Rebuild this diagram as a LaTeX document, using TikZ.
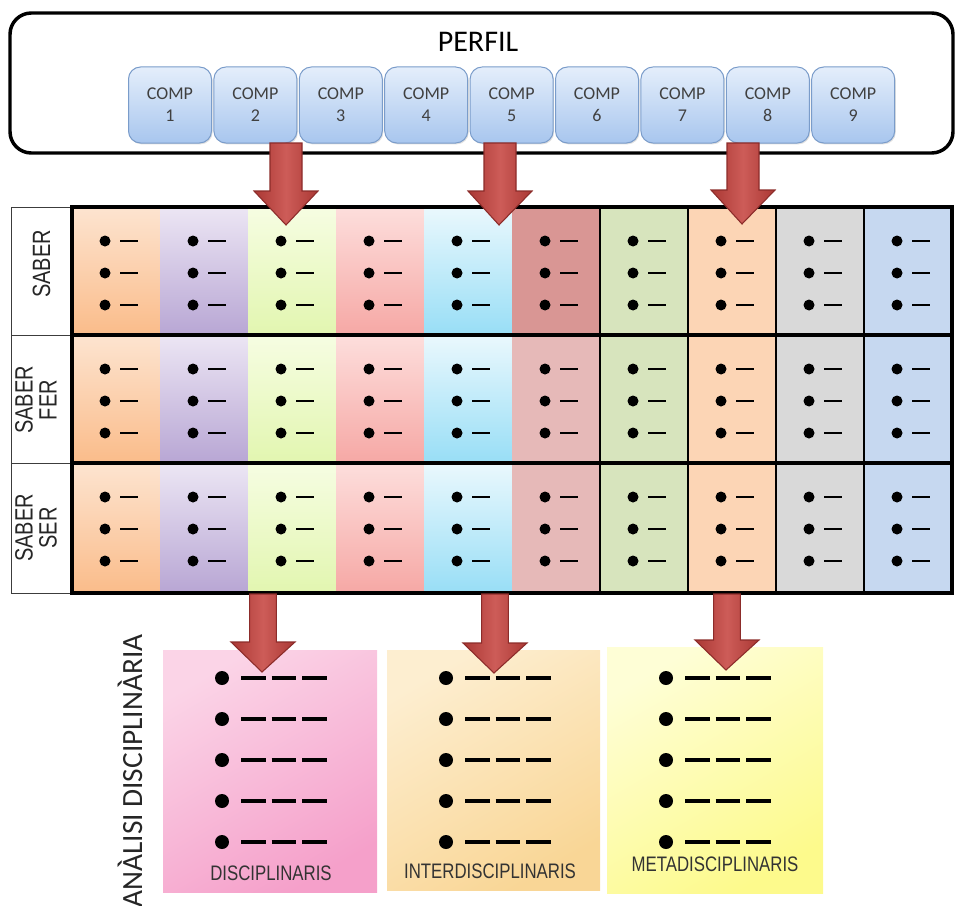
\documentclass[tikz,border=0pt]{standalone}
\usepackage{fontspec}
\setmainfont{Carlito}
\newfontfamily\narrowsans{Liberation Sans}[FakeStretch=0.8]
\usetikzlibrary{calc,shadows}

\definecolor{compline}{RGB}{122,156,202}
\definecolor{comptop}{RGB}{228,238,251}
\definecolor{compbot}{RGB}{168,198,238}
\definecolor{arrowred}{RGB}{205,92,88}
\definecolor{arrowdark}{RGB}{170,56,52}
\definecolor{arrowline}{RGB}{140,44,42}
\definecolor{labline}{RGB}{60,60,60}
% column colours (top / bottom)
\definecolor{oraT}{RGB}{253,228,208}
\definecolor{oraB}{RGB}{250,188,138}
\definecolor{purT}{RGB}{236,230,244}
\definecolor{purB}{RGB}{184,166,212}
\definecolor{lgrT}{RGB}{246,253,226}
\definecolor{lgrB}{RGB}{226,246,176}
\definecolor{redT}{RGB}{253,222,220}
\definecolor{redB}{RGB}{246,168,165}
\definecolor{cyaT}{RGB}{234,248,253}
\definecolor{cyaB}{RGB}{152,222,246}
\definecolor{rosA}{RGB}{217,150,148}
\definecolor{rosB}{RGB}{230,185,184}
\definecolor{olv}{RGB}{215,228,189}
\definecolor{pch}{RGB}{252,213,181}
\definecolor{gry}{RGB}{217,217,217}
\definecolor{blu}{RGB}{198,216,240}
% bottom boxes
\definecolor{pnkT}{RGB}{251,212,231}
\definecolor{pnkB}{RGB}{245,160,202}
\definecolor{begT}{RGB}{253,238,208}
\definecolor{begB}{RGB}{249,214,150}
\definecolor{ylwT}{RGB}{254,254,214}
\definecolor{ylwB}{RGB}{253,250,140}

\tikzset{every picture/.style={line width=0.75pt}}
\tikzset{
  compbox/.style={draw=compline, top color=comptop, bottom color=compbot,
    rounded corners=9pt, minimum width=62.25pt, minimum height=57pt,
    inner sep=0pt, align=center, text=black!75,
    font=\fontsize{13.5}{16.5}\selectfont,
    drop shadow={opacity=0.25, shadow xshift=0.8pt, shadow yshift=-1pt}},
  bigarrow/.style={draw=arrowline, line width=0.8pt,
    left color=arrowdark, right color=arrowdark, middle color=arrowred},
  labtext/.style={rotate=90, align=center, inner sep=0pt, text=black!85,
    font=\narrowsans\fontsize{18.75}{18}\selectfont},
  boxtext/.style={anchor=base, inner sep=0pt, text=black!80,
    font=\narrowsans\fontsize{15.75}{18}\selectfont},
  bulletdash/.style={line width=2.2pt},
  longdash/.style={line width=2.6pt, dash pattern=on 18.5pt off 4.5pt},
  thickline/.style={line width=2.6pt},
}

% block arrow: tail, tip, half shaft, half head, head length
\newcommand{\redarrow}[5]{%
  \path[bigarrow] let \p1=(#1), \p2=(#2) in
    (\x1-#3,\y1) -- (\x1+#3,\y1) -- (\x1+#3,\y2-#5) -- (\x1+#4,\y2-#5)
    -- (\x2,\y2) -- (\x1-#4,\y2-#5) -- (\x1-#3,\y2-#5) -- cycle;}

\begin{document}
\begin{tikzpicture}[x=0.75pt,y=0.75pt,yscale=-1,xscale=1]
\useasboundingbox (0,0) rectangle (956,906);

%Shape: Rounded Rectangle [perfil]
\draw[thickline, rounded corners=16pt] (10,13) rectangle (953,153);
% Text Node
\node[font=\fontsize{22.5}{26}\selectfont, anchor=base, inner sep=0pt] (perfil) at (478,52) {PERFIL};

% Comp boxes
\foreach \i in {1,...,9}
  \node[compbox] (c\i) at ({170+85.4*(\i-1)},105) {COMP\\\i};

%Shape: label column
\draw[labline] (11,207) rectangle (72,593);
\draw[labline] (11,335) -- (72,335) (11,463) -- (72,463);
% Text Nodes
\node[labtext, anchor=base] (saber) at (50,264) {SABER};
\node[labtext] (saberfer) at (36,400) {SABER\\FER};
\node[labtext] (saberser) at (36,528) {SABER\\SER};

%Shape: grid cells
\foreach \c/\ct/\cb in {0/oraT/oraB, 1/purT/purB, 2/lgrT/lgrB, 3/redT/redB, 4/cyaT/cyaB,
                        5/rosB/rosB, 6/olv/olv, 7/pch/pch, 8/gry/gry, 9/blu/blu}
  \foreach \ya/\yb in {207/335, 335/463, 463/593}
    \shade[top color=\ct, bottom color=\cb] ({72+88*\c},\ya) rectangle ({160+88*\c},\yb);
\fill[rosA] (512,207) rectangle (600,335);

% bullets
\foreach \c in {0,...,9}
  \foreach \ya in {207,335,463}
    \foreach \k in {0,1,2} {
      \fill ({72+88*\c+33},{\ya+34+32*\k}) circle (5.5);
      \draw[bulletdash] ({72+88*\c+48},{\ya+34+32*\k}) -- ++(18,0);
    }

%Straight Lines
\foreach \x in {600,688,776,864}
  \draw[line width=1pt] (\x,207) -- (\x,593);
\draw[thickline] (72,335) -- (952,335) (72,463) -- (952,463);
\draw[thickline] (72,207) rectangle (952,593);

%Shape: bottom boxes
\shade[top color=pnkT, bottom color=pnkB, shading angle=30] (163,650) rectangle (377,892);
\shade[top color=begT, bottom color=begB, shading angle=30] (387,650) rectangle (600,890);
\shade[top color=ylwT, bottom color=ylwB, shading angle=30] (607,647) rectangle (823,893);

\foreach \bx in {163,387,607}
  \foreach \k in {0,...,4} {
    \fill ({\bx+59},{678+41*\k}) circle (7);
    \draw[longdash] ({\bx+78},{678+41*\k}) -- ++(86,0);
  }

% Text Nodes
\node[boxtext] (disc) at (271,880) {DISCIPLINARIS};
\node[boxtext] (inter) at (490,878) {INTERDISCIPLINARIS};
\node[boxtext] (meta) at (715,871) {METADISCIPLINARIS};

\node[font=\fontsize{22}{24}\selectfont, rotate=90, anchor=base, inner sep=0pt, text=black!85]
  (analisi) at (142,771) {ANÀLISI DISCIPLINÀRIA};

% Arrows
\coordinate (a1s) at (286,143); \coordinate (a1e) at (286,225);
\coordinate (a2s) at (500,143); \coordinate (a2e) at (499,225);
\coordinate (a3s) at (743,143); \coordinate (a3e) at (742,224);
\redarrow{a1s}{a1e}{12pt}{24pt}{25.5pt}
\redarrow{a2s}{a2e}{12pt}{24pt}{25.5pt}
\redarrow{a3s}{a3e}{12pt}{24pt}{25.5pt}

\coordinate (b1s) at (263,594); \coordinate (b1e) at (262,672);
\coordinate (b2s) at (495,594); \coordinate (b2e) at (494,673);
\coordinate (b3s) at (727,594); \coordinate (b3e) at (726,670);
\redarrow{b1s}{b1e}{10pt}{24pt}{22.5pt}
\redarrow{b2s}{b2e}{10pt}{24pt}{22.5pt}
\redarrow{b3s}{b3e}{10pt}{24pt}{22.5pt}

\end{tikzpicture}
\end{document}
